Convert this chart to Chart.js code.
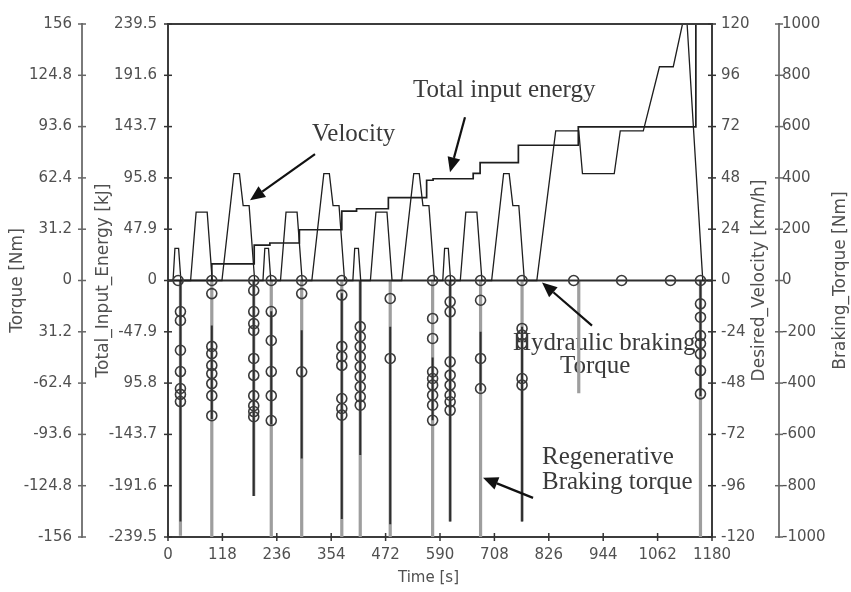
<!DOCTYPE html>
<html><head><meta charset="utf-8">
<script src="https://cdn.jsdelivr.net/npm/chart.js@4.4.1/dist/chart.umd.min.js"></script>
<style>html,body{margin:0;padding:0;background:#fff;overflow:hidden}</style>
</head><body>
<canvas id="c" width="851" height="592"></canvas>
<script>
// ---- tick values and labels ----
const timeTicks = [0,118,236,354,472,590,708,826,944,1062,1180];
const torqueTicks = [156,124.8,93.6,62.4,31.2,0,-31.2,-62.4,-93.6,-124.8,-156];
const torqueLabels = ['156','124.8','93.6','62.4','31.2','0','31.2','-62.4','-93.6','-124.8','-156'];
const energyTicks = [239.5,191.6,143.7,95.8,47.9,0,-47.9,-95.8,-143.7,-191.6,-239.5];
const energyLabels = ['239.5','191.6','143.7','95.8','47.9','0','-47.9','95.8','-143.7','-191.6','-239.5'];
const velocityTicks = [120,96,72,48,24,0,-24,-48,-72,-96,-120];
const brakingTicks = [1000,800,600,400,200,0,-200,-400,-600,-800,-1000];

// ---- desired velocity [km/h] ----
const velTime = [0,11,15,23,28,49,61,85,96,117,143,155,163,176,188,
  195,206,210,218,223,244,256,280,291,312,338,350,358,371,383,
  390,401,405,413,418,439,451,475,486,507,533,545,553,566,578,
  585,596,600,608,613,634,646,670,681,702,728,740,748,761,773,
  780,800,841,891,899,968,981,1031,1066,1096,1116,1126,1160,1180];
const velKmh = [0,0,15,15,0,0,32,32,0,0,50,50,35,35,0,
  0,0,15,15,0,0,32,32,0,0,50,50,35,35,0,
  0,0,15,15,0,0,32,32,0,0,50,50,35,35,0,
  0,0,15,15,0,0,32,32,0,0,50,50,35,35,0,
  0,0,70,70,50,50,70,70,100,100,120,120,0,0];

// ---- total input energy [kJ] (step changes) ----
const energyTime = [0,95,187,221,285,377,409,478,561,575,662,677,760,890,1145];
const energyKJ   = [0,15.6,33,35,47.4,64.8,67,77.4,93.6,95,100,110,126.3,143.4,300];

// ---- braking events [s] and torques [Nm] ----
const brakeTime = [27,95,186,224,290,377,417,482,574,612,678,768,891,1155];
const regenNm   = [-995,-1000,-840,-1000,-1000,-1000,-1000,-1000,-1000,-940,-1000,-940,-440,-1000];
const hydTopNm  = [0,-175,0,-120,-194,-50,0,-180,-300,0,-200,-180,null,0];
const hydBotNm  = [-940,-540,-840,-560,-694,-930,-680,-950,-545,-940,-430,-940,null,-450];
const hydMarkNm = [
  [-121,-156,-272,-355,-421,-444,-472],
  [0,-51,-257,-285,-331,-363,-402,-449,-527],
  [0,-39,-121,-168,-195,-304,-370,-449,-488,-511,-531],
  [0,-121,-234,-355,-449,-546],
  [0,-51,-356],
  [0,-57,-257,-296,-331,-460,-499,-525],
  [-180,-219,-258,-297,-336,-375,-414,-453,-486],
  [-70,-304],
  [0,-148,-226,-356,-382,-408,-447,-486,-545],
  [0,-83,-122,-317,-369,-408,-447,-473,-506],
  [0,-77,-304,-421],
  [0,-187,-213,-246,-382,-408],
  [],
  [0,-91,-143,-215,-246,-286,-351,-442]
];
const zeroMarkTime = [22,880,984,1090];

// ---- build datasets from the arrays ----
const velData = velTime.map((t,i)=>({x:t,y:velKmh[i]}));
const energyData = energyTime.map((t,i)=>({x:t,y:energyKJ[i]}));
const regenData = [];
brakeTime.forEach((t,i)=>{ regenData.push({x:t,y:0},{x:t,y:regenNm[i]},{x:t,y:null}); });
const hydData = [{x:0,y:0},{x:1180,y:0},{x:1180,y:null}];
brakeTime.forEach((t,i)=>{ if(hydTopNm[i]!==null) hydData.push({x:t,y:hydTopNm[i]},{x:t,y:hydBotNm[i]},{x:t,y:null}); });
const markData = [];
brakeTime.forEach((t,i)=>{ hydMarkNm[i].forEach(v=>markData.push({x:t,y:v})); });
zeroMarkTime.forEach(t=>markData.push({x:t,y:0}));

const tickFont = {family:'DejaVu Sans', size:15};
const titleFont = {family:'DejaVu Sans', size:17};
const txtCol = '#505050';

function setTicks(arr){ return s => { s.ticks = arr.map(v=>({value:v})); }; }

const deco = {
  id:'deco',
  beforeDatasetsDraw(chart){
    const ctx = chart.ctx, X = chart.scales.x, Y = chart.scales.yV;
    const notes = [
      ['Velocity',312.4,65.2],
      ['Total input energy',531.4,85.8],
      ['Hydraulic braking',748.4,-32.3],
      ['Torque',850.3,-43.1],
      ['Regenerative',811.3,-85.8],
      ['Braking torque',811.3,-97.5]
    ];
    ctx.save();
    ctx.font = '25px "Liberation Serif"';
    ctx.fillStyle = '#3a3a3a';
    ctx.textAlign = 'left'; ctx.textBaseline = 'alphabetic';
    notes.forEach(n=>ctx.fillText(n[0], X.getPixelForValue(n[1]), Y.getPixelForValue(n[2])));
    ctx.restore();
  },
  afterDatasetsDraw(chart){
    const ctx = chart.ctx, X = chart.scales.x, Y = chart.scales.yV;
    const arrows = [
      [318.9,59.1,177.9,37.5],
      [644.2,76.4,611.7,50.6],
      [919.7,-21.1,811.3,-0.9],
      [791.8,-101.7,683.3,-92.3]
    ];
    ctx.save();
    ctx.strokeStyle = '#111'; ctx.fillStyle = '#111'; ctx.lineWidth = 2.2;
    arrows.forEach(a=>{
      const x1 = X.getPixelForValue(a[0]), y1 = Y.getPixelForValue(a[1]);
      const x2 = X.getPixelForValue(a[2]), y2 = Y.getPixelForValue(a[3]);
      const ang = Math.atan2(y2-y1, x2-x1), L = 15, W = 6.5;
      const bx = x2 - L*Math.cos(ang), by = y2 - L*Math.sin(ang);
      ctx.beginPath(); ctx.moveTo(x1,y1); ctx.lineTo(bx,by); ctx.stroke();
      ctx.beginPath(); ctx.moveTo(x2,y2);
      ctx.lineTo(bx + W*Math.sin(ang), by - W*Math.cos(ang));
      ctx.lineTo(bx - W*Math.sin(ang), by + W*Math.cos(ang));
      ctx.closePath(); ctx.fill();
    });
    ctx.restore();
  },
  afterDraw(chart){
    const ctx = chart.ctx, a = chart.chartArea, S = chart.scales;
    ctx.save();
    // top frame line
    ctx.strokeStyle = '#3c3c3c'; ctx.lineWidth = 2;
    ctx.beginPath(); ctx.moveTo(a.left, a.top); ctx.lineTo(a.right, a.top); ctx.stroke();
    // cross tick marks
    ctx.lineWidth = 1.5;
    const yAx = [['yT',S.yT.right,'#666'],['yE',S.yE.right,'#333'],['yV',S.yV.left,'#333'],['yB',S.yB.left,'#666']];
    yAx.forEach(([id,xx,col])=>{
      const sc = S[id]; ctx.strokeStyle = col;
      sc.ticks.forEach(t=>{ const y = sc.getPixelForValue(t.value); ctx.beginPath(); ctx.moveTo(xx-4,y); ctx.lineTo(xx+4,y); ctx.stroke(); });
    });
    ctx.strokeStyle = '#333';
    S.x.ticks.forEach(t=>{ const x = S.x.getPixelForValue(t.value); ctx.beginPath(); ctx.moveTo(x,S.x.top-4); ctx.lineTo(x,S.x.top+4); ctx.stroke(); });
    // axis titles drawn here: right ones read bottom-to-top, time title centred on the figure
    ctx.fillStyle = txtCol; ctx.font = '17px "DejaVu Sans"'; ctx.textAlign = 'center'; ctx.textBaseline = 'middle';
    const cy = (a.top + a.bottom)/2;
    [['Desired_Velocity [km/h]', S.yV.left + 48], ['Braking_Torque [Nm]', S.yB.left + 62]].forEach(([txt,xx])=>{
      ctx.save(); ctx.translate(xx, cy); ctx.rotate(-Math.PI/2); ctx.fillText(txt,0,0); ctx.restore();
    });
    ctx.font = '15px "DejaVu Sans"';
    ctx.fillText('Time [s]', chart.width/2 + 3, S.x.top + 41);
    ctx.restore();
  }
};

function yAxis(pos, weight, width, min, max, ticksArr, labels, borderCol, pad, title, titlePad){
  return {
    type:'linear', position:pos, weight:weight, min:min, max:max,
    afterBuildTicks: setTicks(ticksArr),
    afterFit: s => { s.width = width; },
    grid:{display:false, drawTicks:false, drawOnChartArea:false},
    border:{display:true, color:borderCol, width:2},
    ticks:{autoSkip:false, padding:pad, font:tickFont, color:txtCol,
           callback:(v,i)=> labels ? labels[i] : String(v)},
    title: title ? {display:true, text:title, font:titleFont, color:txtCol, padding:{top:titlePad,bottom:0}} : {display:false}
  };
}

new Chart(document.getElementById('c'), {
  type:'line',
  data:{ datasets:[
    {label:'Hydraulic braking torque markers', data:markData, yAxisID:'yB', xAxisID:'x', showLine:false,
     pointRadius:5, pointStyle:'circle', pointBorderWidth:1.6, pointBorderColor:'#3a3a3a',
     pointBackgroundColor:'rgba(0,0,0,0)', order:1},
    {label:'Desired_Velocity', data:velData, yAxisID:'yV', xAxisID:'x', borderColor:'#1e1e1e', borderWidth:1.3, pointRadius:0, order:2},
    {label:'Total_Input_Energy', data:energyData, yAxisID:'yE', xAxisID:'x', borderColor:'#1e1e1e', borderWidth:1.7, pointRadius:0, stepped:'before', order:3},
    {label:'Hydraulic braking torque', data:hydData, yAxisID:'yB', xAxisID:'x', borderColor:'#2e2e2e', borderWidth:2, pointRadius:0, spanGaps:false, order:4},
    {label:'Regenerative braking torque', data:regenData, yAxisID:'yB', xAxisID:'x', borderColor:'#9e9e9e', borderWidth:3.2, pointRadius:0, spanGaps:false, order:5}
  ]},
  options:{
    responsive:false, animation:false, devicePixelRatio:1,
    layout:{padding:{top:24,left:0,right:0,bottom:0}},
    plugins:{legend:{display:false}, tooltip:{enabled:false}},
    elements:{line:{tension:0}},
    scales:{
      x:{type:'linear', position:'bottom', min:0, max:1180,
         afterBuildTicks: setTicks(timeTicks),
         afterFit: s => { s.height = 55; },
         grid:{display:false, drawTicks:false},
         border:{display:true, color:'#3c3c3c', width:2},
         ticks:{autoSkip:false, maxRotation:0, padding:9, font:tickFont, color:txtCol, callback:v=>String(v)},
         title:{display:false}},
      yT: yAxis('left', 2, 82, -156, 156, torqueTicks, torqueLabels, '#7a7a7a', 10, 'Torque [Nm]', 7),
      yE: yAxis('left', 1, 86, -239.5, 239.5, energyTicks, energyLabels, '#3c3c3c', 11, 'Total_Input_Energy [kJ]', 11),
      yV: yAxis('right', 1, 67, -120, 120, velocityTicks, null, '#3c3c3c', 9, null, 0),
      yB: yAxis('right', 2, 72, -1000, 1000, brakingTicks, null, '#7a7a7a', 3, null, 0)
    }
  },
  plugins:[deco]
});
</script>
</body></html>
